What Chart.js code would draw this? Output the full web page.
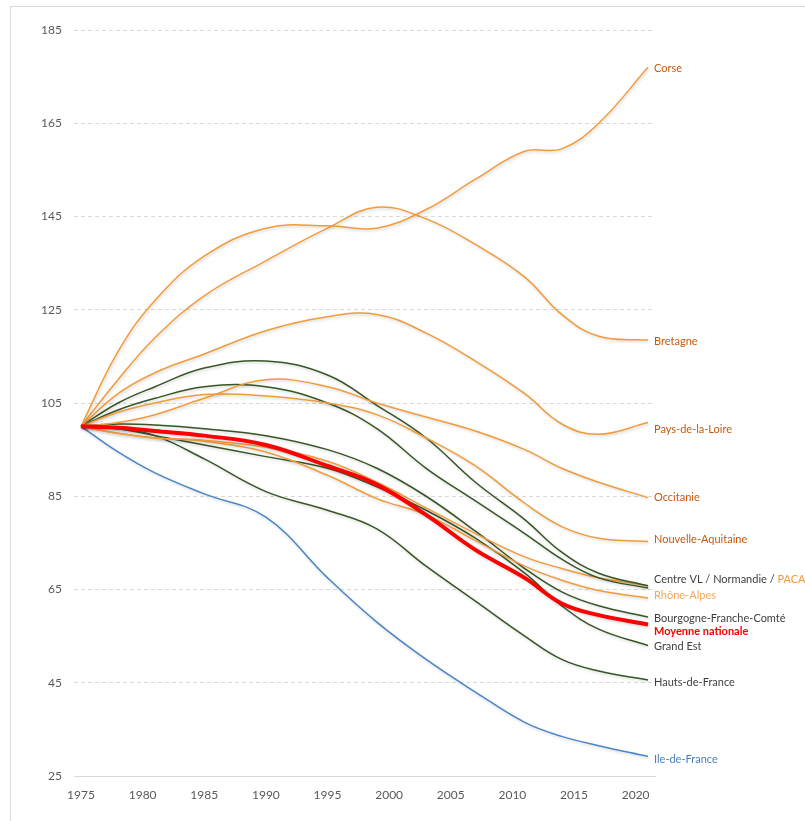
<!DOCTYPE html>
<html>
<head>
<meta charset="utf-8">
<script src="https://cdn.jsdelivr.net/npm/chart.js@4"></script>
<style>
  html, body { margin: 0; padding: 0; background: #fff; }
  #wrap { position: relative; width: 805px; height: 821px; overflow: hidden; }
  #frame { position: absolute; left: 10px; top: 6px; width: 900px; height: 900px;
           border-left: 1px solid #d9d9d9; border-top: 1px solid #d9d9d9; }
  canvas { position: absolute; left: 0; top: 0; }
</style>
</head>
<body>
<div id="wrap">
  <div id="frame"></div>
  <canvas id="canvasChart" width="805" height="821"></canvas>
</div>
<script>
const years = [1975, 1978, 1981, 1985, 1990, 1995, 1999, 2003, 2007, 2011, 2014, 2017, 2021];
const xTicks = [1975, 1980, 1985, 1990, 1995, 2000, 2005, 2010, 2015, 2020];

// index base 100 in 1975
const corse       = [100, 116, 127, 136.5, 142.5, 143, 142.5, 146.5, 153, 159, 159.5, 165, 177];
const bretagne    = [100, 110, 119, 128, 135.5, 142.5, 147, 144.5, 139, 132, 124, 119.3, 118.5];
const paysLoire   = [100, 107, 111.5, 115.5, 120.5, 123.5, 124, 120, 114, 107, 100.5, 98.3, 100.8];
const occitanie   = [100, 100.8, 102.5, 106, 110, 108.5, 105, 102, 99, 95, 91, 88, 84.7];
const nouvAquit   = [100, 103, 105, 106.8, 106.5, 105, 102.5, 97.5, 91.5, 83.5, 78.5, 76, 75.3];
const centreVL    = [100, 105, 108.5, 112.5, 114, 111, 104.5, 97.5, 88, 80, 73, 68.5, 65.8];
const normandie   = [100, 103.5, 106, 108.5, 108.5, 105, 99.5, 91, 84, 77, 71.5, 67.5, 65.3];
const paca        = [100, 98.5, 97.5, 97, 95.5, 92.5, 88, 82.5, 77, 72, 69.5, 67.5, 65.8];
const rhoneAlpes  = [100, 98.5, 97.5, 96.8, 94.5, 89.5, 84.5, 81, 75.5, 70, 67, 64.8, 63.2];
const bourgogne   = [100, 100.5, 100.3, 99.5, 98, 95, 91, 85, 77.5, 69.5, 64.5, 61.5, 59.1];
const moyenne     = [100, 99.7, 99, 98, 96, 91.5, 87.5, 81, 73.5, 67.5, 62, 59.5, 57.5];
const grandEst    = [100, 99.5, 98, 96, 93.5, 91, 87, 82, 76, 68.5, 61.5, 56.5, 53];
const hautsFrance = [100, 99.5, 98, 93, 86, 82, 78, 70, 62.5, 55, 50, 47.5, 45.6];
const ileFrance   = [100, 94.5, 90, 85.5, 80.5, 67.5, 58, 50, 43, 36.5, 33.5, 31.5, 29.2];

const ORANGE = '#f29b3a';
const GREEN = '#375623';
const BLUE = '#4a86c8';
const RED = '#ff0000';

const series = [
  { name: 'Moyenne nationale', values: moyenne, color: RED, width: 4, order: -1 },
  { name: 'Corse', values: corse, color: ORANGE },
  { name: 'Bretagne', values: bretagne, color: ORANGE },
  { name: 'Pays-de-la-Loire', values: paysLoire, color: ORANGE },
  { name: 'Occitanie', values: occitanie, color: ORANGE },
  { name: 'Nouvelle-Aquitaine', values: nouvAquit, color: ORANGE },
  { name: 'Centre VL', values: centreVL, color: GREEN },
  { name: 'Normandie', values: normandie, color: GREEN },
  { name: 'PACA', values: paca, color: ORANGE },
  { name: 'Rhône-Alpes', values: rhoneAlpes, color: ORANGE },
  { name: 'Bourgogne-Franche-Comté', values: bourgogne, color: GREEN },
  { name: 'Grand Est', values: grandEst, color: GREEN },
  { name: 'Hauts-de-France', values: hautsFrance, color: GREEN },
  { name: 'Ile-de-France', values: ileFrance, color: BLUE }
];

// text placed at the end of each line
const endLabels = [
  { series: 'Corse', parts: [['Corse', '#c55a11']], dy: 1 },
  { series: 'Bretagne', parts: [['Bretagne', '#c55a11']], dy: 1 },
  { series: 'Pays-de-la-Loire', parts: [['Pays-de-la-Loire', '#c55a11']], dy: 7 },
  { series: 'Occitanie', parts: [['Occitanie', '#c55a11']], dy: 0 },
  { series: 'Nouvelle-Aquitaine', parts: [['Nouvelle-Aquitaine', '#c55a11']], dy: -2 },
  { series: 'Centre VL', parts: [['Centre VL / Normandie / ', '#404040'], ['PACA', '#f39a3e']], dy: -6 },
  { series: 'Rhône-Alpes', parts: [['Rhône-Alpes', '#f4a85c']], dy: -2 },
  { series: 'Bourgogne-Franche-Comté', parts: [['Bourgogne-Franche-Comté', '#404040']], dy: 1 },
  { series: 'Moyenne nationale', parts: [['Moyenne nationale', RED]], dy: 7, bold: true },
  { series: 'Grand Est', parts: [['Grand Est', '#404040']], dy: 1 },
  { series: 'Hauts-de-France', parts: [['Hauts-de-France', '#404040']], dy: 3 },
  { series: 'Ile-de-France', parts: [['Ile-de-France', '#4a7ebb']], dy: 3 }
];

const FONT = 'Lato, "Open Sans", sans-serif';

const lineShadow = {
  id: 'lineShadow',
  beforeDatasetsDraw(chart) {
    const ctx = chart.ctx;
    ctx.save();
    ctx.shadowColor = 'rgba(0,0,0,0.18)';
    ctx.shadowBlur = 3;
    ctx.shadowOffsetX = 1;
    ctx.shadowOffsetY = 1.5;
  },
  afterDatasetsDraw(chart) {
    chart.ctx.restore();
  }
};

const lineEndLabels = {
  id: 'lineEndLabels',
  afterDraw(chart) {
    const ctx = chart.ctx;
    ctx.save();
    ctx.textBaseline = 'middle';
    ctx.textAlign = 'left';
    endLabels.forEach(lab => {
      const i = chart.data.datasets.findIndex(d => d.label === lab.series);
      const pts = chart.getDatasetMeta(i).data;
      const last = pts[pts.length - 1];
      let x = last.x + 6;
      const y = last.y + lab.dy;
      ctx.font = (lab.bold ? 'bold ' : '') + '11px ' + FONT;
      lab.parts.forEach(([text, color]) => {
        ctx.fillStyle = color;
        ctx.fillText(text, x, y);
        x += ctx.measureText(text).width;
      });
    });
    ctx.restore();
  }
};

const ctx = document.getElementById('canvasChart').getContext('2d');

new Chart(ctx, {
  type: 'line',
  data: {
    datasets: series.map(s => ({
      label: s.name,
      data: years.map((yr, k) => ({ x: yr, y: s.values[k] })),
      borderColor: s.color,
      borderWidth: s.width || 1.5,
      pointRadius: 0,
      tension: 0.4,
      fill: false,
      order: s.order || 0
    }))
  },
  options: {
    responsive: false,
    animation: false,
    layout: { padding: { left: 0, right: 150, top: 30, bottom: 0 } },
    plugins: {
      legend: { display: false },
      tooltip: { enabled: false }
    },
    scales: {
      x: {
        type: 'linear',
        min: 1974.43,
        max: 2021.57,
        afterBuildTicks: scale => { scale.ticks = xTicks.map(v => ({ value: v })); },
        afterFit: scale => { scale.height = 45; },
        grid: { display: false, drawTicks: false },
        border: { display: true, color: '#d9d9d9', width: 1 },
        ticks: {
          padding: 12,
          autoSkip: false,
          maxRotation: 0,
          color: '#595959',
          font: { family: FONT, size: 12 },
          callback: v => String(v)
        }
      },
      y: {
        min: 25,
        max: 185,
        afterFit: scale => { scale.width = 74; },
        grid: { color: '#d9d9d9', drawTicks: false },
        border: { display: false, dash: [4, 3] },
        ticks: {
          stepSize: 20,
          padding: 12,
          color: '#595959',
          font: { family: FONT, size: 12 }
        }
      }
    }
  },
  plugins: [lineShadow, lineEndLabels]
});
</script>
</body>
</html>
